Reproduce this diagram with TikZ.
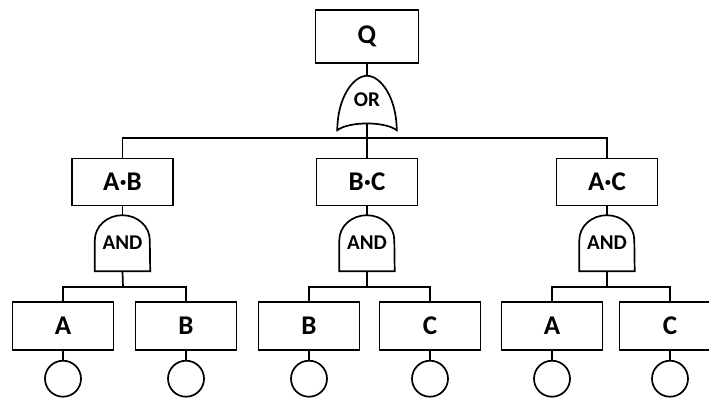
\documentclass[tikz,border=0pt]{standalone}
\usepackage{fontspec}
\setmainfont{Carlito}
\usetikzlibrary{positioning, calc}

\begin{document}
\begin{tikzpicture}[x=1pt, y=1pt,
    event/.style={rectangle, draw, line width=1.7pt, minimum width=101pt, minimum height=48pt, inner sep=0pt, font=\fontsize{27}{27}\selectfont\bfseries},
    gate/.style={rectangle, minimum width=55pt, minimum height=56pt, inner sep=0pt, font=\fontsize{21}{21}\selectfont\bfseries},
    basic/.style={circle, draw, line width=1.7pt, minimum size=36pt, inner sep=0pt},
    wire/.style={line width=1.7pt}
]
\clip (0,0) rectangle (709,400);

% Top event and OR gate
\node[event, minimum width=103pt, minimum height=53pt] (q) at (367,363.5) {Q};
\node[gate, minimum width=59pt, minimum height=48pt] (or) at (367,300) {OR};
\draw[wire] ($(or.south west)+(0,-6)$) .. controls ($(or.south west)+(0,26)$) and ($(or.north)+(-14,0)$) .. (or.north)
    .. controls ($(or.north)+(14,0)$) and ($(or.south east)+(0,26)$) .. ($(or.south east)+(0,-6)$)
    .. controls ($(or.south east)+(-12,3)$) and ($(or.south west)+(12,3)$) .. cycle;

% Intermediate events
\node[event, minimum height=47pt] (ab) at (122.5,218) {A·B};
\node[event, minimum height=47pt] (bc) at (367,218) {B·C};
\node[event, minimum height=47pt] (ac) at (607,218) {A·C};

% AND gates
\node[gate] (g1) at (122.5,157) {AND};
\node[gate] (g2) at (367,157) {AND};
\node[gate] (g3) at (607,157) {AND};
\foreach \g in {g1,g2,g3}
  \draw[wire] (\g.south west) -- ++(0,31) arc[start angle=180, end angle=0, x radius=27.5, y radius=25] -- (\g.south east) -- cycle;

% Basic events
\node[event] (a1) at (63,74) {A};
\node[event] (b1) at (186,74) {B};
\node[event] (b2) at (309,74) {B};
\node[event] (c2) at (430,74) {C};
\node[event] (a3) at (552,74) {A};
\node[event] (c3) at (670,74) {C};
\foreach \n in {a1,b1,b2,c2,a3,c3} {
  \node[basic, below=9pt of \n] (e\n) {};
  \draw[wire] (\n) -- (e\n);
}

% Connections
\coordinate (orbar) at (367,262);
\coordinate (abbar) at (123,113);
\coordinate (bcbar) at (367,113);
\coordinate (acbar) at (607,113);
\draw[wire] (q) -- (or);
\draw[wire] (or.south) -- (orbar);
\draw[wire] (ab.north) |- (orbar) -| (ac.north);
\draw[wire] (orbar) -- (bc.north);
\draw[wire] (ab) -- (g1);
\draw[wire] (bc) -- (g2);
\draw[wire] (ac) -- (g3);
\draw[wire] (g1.south) -- (abbar);
\draw[wire] (g2.south) -- (bcbar);
\draw[wire] (g3.south) -- (acbar);
\draw[wire] (a1.north) |- (abbar) -| (b1.north);
\draw[wire] (b2.north) |- (bcbar) -| (c2.north);
\draw[wire] (a3.north) |- (acbar) -| (c3.north);

\end{tikzpicture}
\end{document}
